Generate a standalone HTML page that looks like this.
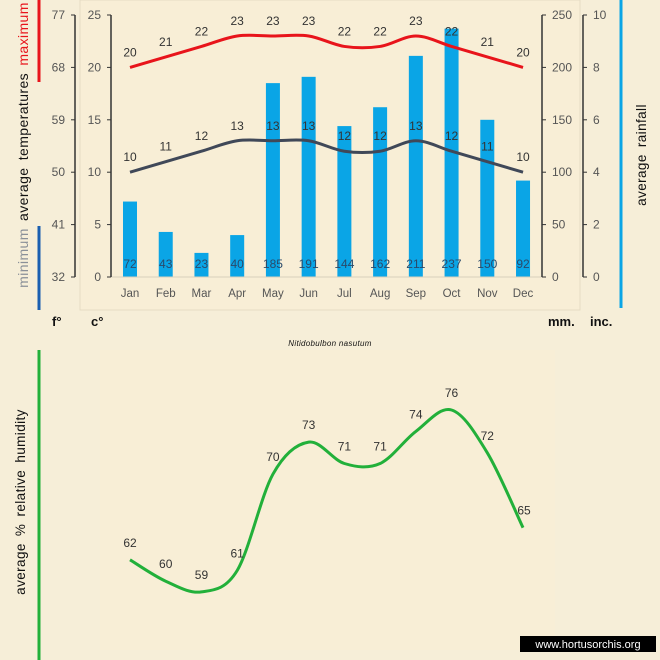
<!DOCTYPE html>
<html><head><meta charset="utf-8"><style>
html,body{margin:0;padding:0;background:#f6eed8;}
svg{display:block;font-family:"Liberation Sans",sans-serif;}
</style></head><body>
<svg id="s" width="660" height="660" viewBox="0 0 660 660" xmlns="http://www.w3.org/2000/svg">
<rect width="660" height="660" fill="#f6eed8"/>
<rect x="80" y="0" width="500" height="310" fill="#f8eed6" stroke="#e6dcc4"/>
<rect x="100" y="350" width="455" height="300" fill="#f8eed6"/>
<g id="g"></g>
</svg>
<script>
const g=document.getElementById('g');let h='';
const X=i=>130+i*35.73, Y=c=>277-c*10.48, R=m=>277-m*1.048;
const mon=['Jan','Feb','Mar','Apr','May','Jun','Jul','Aug','Sep','Oct','Nov','Dec'];
const mx=[20,21,22,23,23,23,22,22,23,22,21,20],mn=[10,11,12,13,13,13,12,12,13,12,11,10];
const rain=[72,43,23,40,185,191,144,162,211,237,150,92];
const hum=[62,60,59,61,70,73,71,71,74,76,72,65];
function smooth(p){let d='M'+p[0][0]+','+p[0][1];for(let i=0;i<p.length-1;i++){const p0=p[i-1]||p[i],p1=p[i],p2=p[i+1],p3=p[i+2]||p2;const t=1/6;d+=` C${p1[0]+(p2[0]-p0[0])*t},${p1[1]+(p2[1]-p0[1])*t} ${p2[0]-(p3[0]-p1[0])*t},${p2[1]-(p3[1]-p1[1])*t} ${p2[0]},${p2[1]}`;}return d;}
rain.forEach((r,i)=>{h+=`<rect x="${X(i)-7}" y="${R(r)}" width="14" height="${277-R(r)}" fill="#0aa5e6"/>`;});
h+=`<line x1="111" y1="277" x2="542" y2="277" stroke="#d8d0bc"/>`;
h+=`<path d="${smooth(mx.map((v,i)=>[X(i),Y(v)]))}" fill="none" stroke="#e8141b" stroke-width="3"/>`;
h+=`<path d="${smooth(mn.map((v,i)=>[X(i),Y(v)]))}" fill="none" stroke="#404858" stroke-width="3"/>`;
mx.forEach((v,i)=>h+=`<text x="${X(i)}" y="${Y(v)-11}" font-size="12" text-anchor="middle" fill="#333">${v}</text>`);
mn.forEach((v,i)=>h+=`<text x="${X(i)}" y="${Y(v)-11}" font-size="12" text-anchor="middle" fill="#333">${v}</text>`);
rain.forEach((v,i)=>h+=`<text x="${X(i)}" y="268" font-size="12" text-anchor="middle" fill="#2a4a6a">${v}</text>`);
mon.forEach((m,i)=>h+=`<text x="${X(i)}" y="297" font-size="11.5" text-anchor="middle" fill="#555">${m}</text>`);
h+=`<line x1="75" y1="15" x2="75" y2="277" stroke="#333" stroke-width="1.5"/><line x1="111" y1="15" x2="111" y2="277" stroke="#333" stroke-width="1.5"/>`;
h+=`<line x1="542" y1="15" x2="542" y2="277" stroke="#333" stroke-width="1.5"/><line x1="583" y1="15" x2="583" y2="277" stroke="#333" stroke-width="1.5"/>`;
[32,41,50,59,68,77].forEach((f,i)=>{const y=277-i*52.4;h+=`<line x1="71" y1="${y}" x2="75" y2="${y}" stroke="#333"/><text x="65" y="${y+4}" font-size="12" text-anchor="end" fill="#555">${f}</text>`;});
[0,5,10,15,20,25].forEach((c,i)=>{const y=277-i*52.4;h+=`<line x1="107" y1="${y}" x2="111" y2="${y}" stroke="#333"/><text x="101" y="${y+4}" font-size="12" text-anchor="end" fill="#555">${c}</text>`;});
[0,50,100,150,200,250].forEach((c,i)=>{const y=277-i*52.4;h+=`<line x1="542" y1="${y}" x2="546" y2="${y}" stroke="#333"/><text x="552" y="${y+4}" font-size="12" fill="#555">${c}</text>`;});
[0,2,4,6,8,10].forEach((c,i)=>{const y=277-i*52.4;h+=`<line x1="583" y1="${y}" x2="587" y2="${y}" stroke="#333"/><text x="593" y="${y+4}" font-size="12" fill="#555">${c}</text>`;});
h+=`<line x1="39" y1="0" x2="39" y2="82" stroke="#e8141b" stroke-width="3"/><line x1="39" y1="226" x2="39" y2="310" stroke="#1a5fb0" stroke-width="3"/>`;
h+=`<line x1="621" y1="0" x2="621" y2="308" stroke="#0aa5e6" stroke-width="3"/>`;
h+=`<text transform="translate(28,145) rotate(-90)" font-size="14" text-anchor="middle" letter-spacing="0.4" word-spacing="3"><tspan fill="#8a9098">minimum </tspan><tspan fill="#111"> average  temperatures </tspan><tspan fill="#e8141b"> maximum</tspan></text>`;
h+=`<text transform="translate(646,155) rotate(-90)" font-size="13.5" text-anchor="middle" fill="#111" letter-spacing="0.4" word-spacing="3">average rainfall</text>`;
h+=`<text x="52" y="326" font-size="13" font-weight="bold" fill="#111">f°</text><text x="91" y="326" font-size="13" font-weight="bold" fill="#111">c°</text>`;
h+=`<text x="548" y="326" font-size="13" font-weight="bold" fill="#111">mm.</text><text x="590" y="326" font-size="13" font-weight="bold" fill="#111">inc.</text>`;
h+=`<text x="330" y="346" font-size="8" font-style="italic" text-anchor="middle" fill="#111" letter-spacing="0.3">Nitidobulbon  nasutum</text>`;
const HY=v=>410+(76-v)*10.7;
h+=`<path d="${smooth(hum.map((v,i)=>[X(i),HY(v)]))}" fill="none" stroke="#22b03a" stroke-width="3"/>`;
hum.forEach((v,i)=>h+=`<text x="${X(i)+(i==11?1:0)}" y="${HY(v)-13}" font-size="12" text-anchor="middle" fill="#333">${v}</text>`);
h+=`<line x1="39" y1="350" x2="39" y2="660" stroke="#22b03a" stroke-width="3"/>`;
h+=`<text transform="translate(25,502) rotate(-90)" font-size="13.5" text-anchor="middle" fill="#111" letter-spacing="0.4" word-spacing="3">average %  relative humidity</text>`;
h+=`<rect x="520" y="636" width="136" height="16" fill="#000"/><text x="588" y="648" font-size="11" text-anchor="middle" fill="#fff">www.hortusorchis.org</text>`;
g.innerHTML=h;
</script>
</body></html>
